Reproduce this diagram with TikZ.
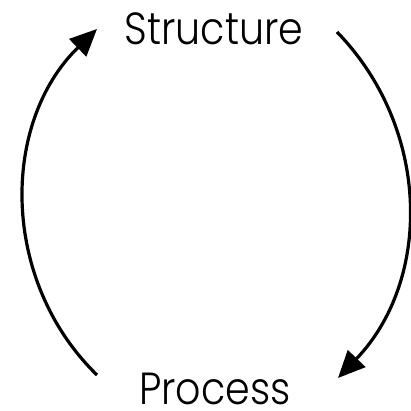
\documentclass[tikz,border=0pt]{standalone}
\usepackage{fontspec}
\setmainfont{Poppins Light}
\usetikzlibrary{arrows.meta}
\begin{document}
\begin{tikzpicture}[x=1pt,y=1pt,
  lbl/.style={anchor=base,inner sep=0pt,text depth=0pt,xscale=0.88,font=\fontsize{45}{50}\selectfont},
  cyc/.style={line width=3.2pt,-{Triangle[length=27pt,width=24pt]}}]
\useasboundingbox (0,0) rectangle (411,411);
\node[lbl] (structure) at (214,366) {Structure};
\node[lbl] (process) at (215,6) {Process};
\coordinate (lstart) at (97,36);
\coordinate (lend) at (97,382);
\coordinate (rstart) at (337,379);
\coordinate (rend) at (338,33);
\draw[cyc] (lstart) to[bend left=45.75] (lend);
\draw[cyc] (rstart) to[bend left=44] (rend);
\end{tikzpicture}
\end{document}
